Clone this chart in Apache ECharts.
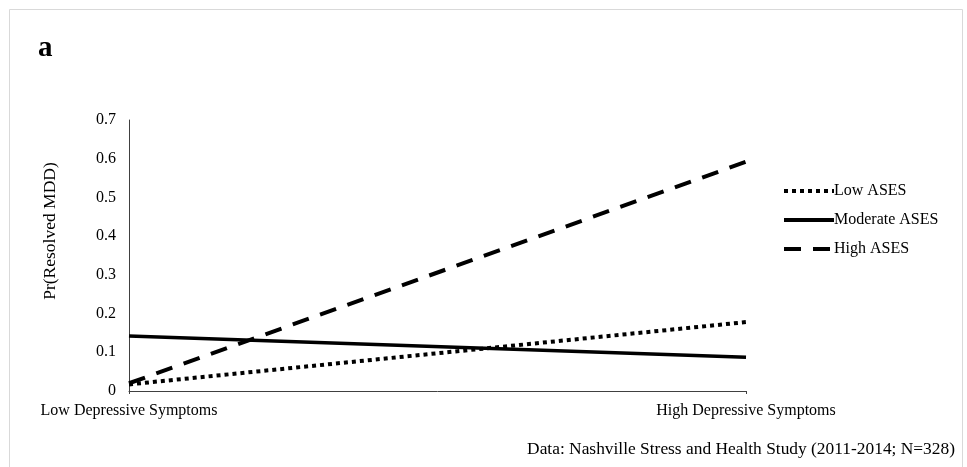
<!DOCTYPE html>
<html><head><meta charset="utf-8">
<script src="https://cdn.jsdelivr.net/npm/echarts@6/dist/echarts.min.js"></script>
<style>html,body{margin:0;padding:0;background:#fff}#c{width:967px;height:467px}</style>
</head><body><div id="c"></div>
<script>
const categories = ['Low Depressive Symptoms', 'High Depressive Symptoms'];
const lowASES = [0.017, 0.178];
const moderateASES = [0.142, 0.087];
const highASES = [0.02, 0.592];
const yTicks = [0, 0.1, 0.2, 0.3, 0.4, 0.5, 0.6, 0.7];

const F = '"Liberation Serif", "Times New Roman", serif';
const chart = echarts.init(document.getElementById('c'));
chart.setOption({
  animation: false,
  backgroundColor: '#fff',
  grid: { left: 129, right: 221, top: 120, bottom: 76 },
  legend: {
    orient: 'vertical', left: 777, top: 178, itemWidth: 50, itemHeight: 16, itemGap: 13,
    itemStyle: { opacity: 0 },
    lineStyle: { width: 4 },
    textStyle: { fontFamily: F, fontSize: 16, color: '#000', padding: [0,0,0,-5] },
    data: ['Low ASES', 'Moderate ASES', 'High ASES']
  },
  xAxis: {
    type: 'category', data: categories, boundaryGap: false,
    axisLine: { lineStyle: { color: '#404040', width: 1 } },
    axisTick: { show: true, length: 3, lineStyle: { color: '#404040' } },
    axisLabel: { fontFamily: F, fontSize: 16, color: '#000', margin: 12 }
  },
  yAxis: {
    type: 'value', min: 0, max: 0.7, interval: 0.1,
    splitLine: { show: false },
    axisLine: { show: true, lineStyle: { color: '#404040', width: 1 } },
    axisTick: { show: false },
    axisLabel: { fontFamily: F, fontSize: 16, color: '#000', margin: 13,
      formatter: v => { const t = yTicks.find(x => Math.abs(x - v) < 1e-9); return t === undefined ? '' : String(+t.toFixed(1)); } }
  },
  graphic: [
    { type: 'rect', shape: { x: 9.5, y: 9.5, width: 953, height: 480 }, style: { fill: 'none', stroke: '#d9d9d9', lineWidth: 1 }, silent: true },
    { type: 'text', left: 38, top: 34, style: { text: 'a', font: 'bold 29px ' + F, fill: '#000' } },
    { type: 'text', x: 50, y: 231, rotation: Math.PI / 2, style: { text: 'Pr(Resolved MDD)', font: '17.5px ' + F, fill: '#000', align: 'center', verticalAlign: 'middle' } },
    { type: 'text', right: 12, top: 441, style: { text: 'Data: Nashville Stress and Health Study (2011-2014; N=328)', font: '17.4px ' + F, fill: '#000' } }
  ],
  series: [
    { name: 'Low ASES', type: 'line', data: lowASES, symbol: 'none', color: '#000',
      lineStyle: { color: '#000', width: 4, type: [4, 4], cap: 'butt' } },
    { name: 'Moderate ASES', type: 'line', data: moderateASES, symbol: 'none', color: '#000',
      lineStyle: { color: '#000', width: 3.5, type: 'solid' } },
    { name: 'High ASES', type: 'line', data: highASES, symbol: 'none', color: '#000',
      lineStyle: { color: '#000', width: 4, type: [17, 12], cap: 'butt' } }
  ]
});
</script></body></html>
